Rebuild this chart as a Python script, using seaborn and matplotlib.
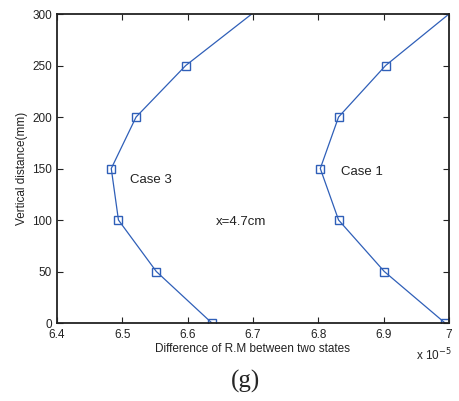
import matplotlib
matplotlib.use("Agg")
import matplotlib.pyplot as plt
import matplotlib.ticker as mticker
import seaborn as sns
import pandas as pd

# Data (x in units of 1e-5)
depth = [0, 50, 100, 150, 200, 250, 300]
case3 = [6.637, 6.552, 6.494, 6.483, 6.521, 6.597, 6.698]
case1 = [6.994, 6.901, 6.831, 6.803, 6.831, 6.903, 7.0]
xticks = [6.4, 6.5, 6.6, 6.7, 6.8, 6.9, 7.0]
yticks = [0, 50, 100, 150, 200, 250, 300]

df = pd.concat([
    pd.DataFrame({"x": case3, "y": depth, "case": "Case 3"}),
    pd.DataFrame({"x": case1, "y": depth, "case": "Case 1"}),
])

sns.set_style("ticks")
plt.rcParams['font.family'] = ['Liberation Sans', 'DejaVu Sans']

fig = plt.figure(figsize=(4.6, 4.01), dpi=100)
ax = fig.add_axes([0.124, 0.1945, 0.852, 0.7705])

color = "#2f5fb8"
sns.lineplot(data=df, x="x", y="y", units="case", estimator=None, sort=False,
             color=color, lw=0.9, marker="s", markersize=5.5,
             markerfacecolor="none", markeredgecolor=color, markeredgewidth=1.0,
             markevery=[0, 1, 2, 3, 4, 5], ax=ax, legend=False)

ax.set_xlim(6.4, 7.0)
ax.set_ylim(0, 300)
ax.set_xticks(xticks)
ax.set_yticks(yticks)
ax.xaxis.set_major_formatter(mticker.FormatStrFormatter('%g'))
ax.tick_params(direction="in", top=True, right=True, length=4, width=0.8,
               labelsize=8.5, colors="#222222")
ax.tick_params(axis="x", pad=4.5)
ax.tick_params(axis="y", pad=3.5)
for s in ax.spines.values():
    s.set_visible(True)
    s.set_linewidth(1.3)
    s.set_color("#222222")

ax.set_xlabel("Difference of R.M between two states", fontsize=8.5, labelpad=1, color="#222222")
ax.set_ylabel("Vertical distance(mm)", fontsize=8.5, labelpad=3, color="#222222")

ax.text(6.512, 139, "Case 3", fontsize=9.5, color="#222222", va="center")
ax.text(6.834, 147, "Case 1", fontsize=9.5, color="#222222", va="center")
ax.text(6.682, 98, "x=4.7cm", fontsize=9.5, color="#222222", ha="center", va="center")

fig.text(0.943, 0.115, r"x 10$^{-5}$", fontsize=8.5, color="#222222", ha="center", va="center")
fig.text(0.533, 0.048, "(g)", fontsize=18, family="Liberation Serif", ha="center", va="center")

fig.savefig("out.png", dpi=100, facecolor="white")
